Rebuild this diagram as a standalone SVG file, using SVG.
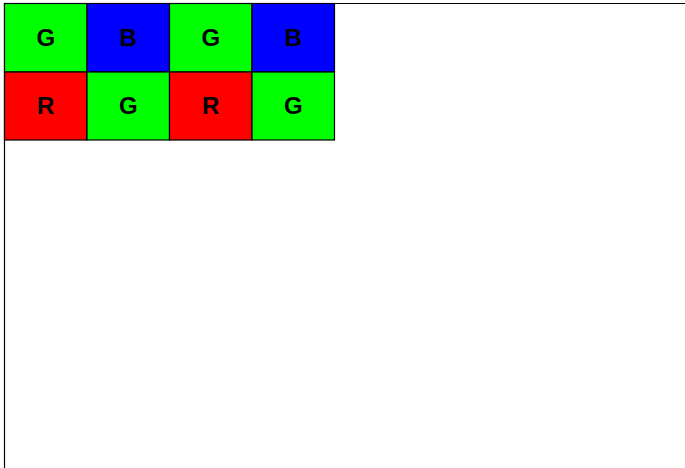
<svg xmlns="http://www.w3.org/2000/svg" width="685" height="468" viewBox="0 0 685 468">
<style>
.c{stroke:#000;stroke-width:1.2}
.t{font-family:"Liberation Sans",Arial,sans-serif;font-weight:bold;font-size:24px;text-anchor:middle;fill:#000}
.g{fill:#00ff00}.b{fill:#0000ff}.r{fill:#ff0000}
</style>
<rect x="0" y="0" width="685" height="468" fill="#fff"/>
<path d="M4.5 470 V3.5 H690" fill="none" stroke="#000" stroke-width="1.2"/>
<g id="c00"><rect class="c g" x="4.5" y="3.5" width="82.5" height="68.5"/><text class="t" x="45.75" y="46">G</text></g>
<g id="c01"><rect class="c b" x="87" y="3.5" width="82.5" height="68.5"/><text class="t" x="128.25" y="46">B</text></g>
<g id="c02"><rect class="c g" x="169.5" y="3.5" width="82.5" height="68.5"/><text class="t" x="210.75" y="46">G</text></g>
<g id="c03"><rect class="c b" x="252" y="3.5" width="82.5" height="68.5"/><text class="t" x="293.25" y="46">B</text></g>
<g id="c10"><rect class="c r" x="4.5" y="72" width="82.5" height="68"/><text class="t" x="45.75" y="114">R</text></g>
<g id="c11"><rect class="c g" x="87" y="72" width="82.5" height="68"/><text class="t" x="128.25" y="114">G</text></g>
<g id="c12"><rect class="c r" x="169.5" y="72" width="82.5" height="68"/><text class="t" x="210.75" y="114">R</text></g>
<g id="c13"><rect class="c g" x="252" y="72" width="82.5" height="68"/><text class="t" x="293.25" y="114">G</text></g>
<g id="connectors"></g>
</svg>
